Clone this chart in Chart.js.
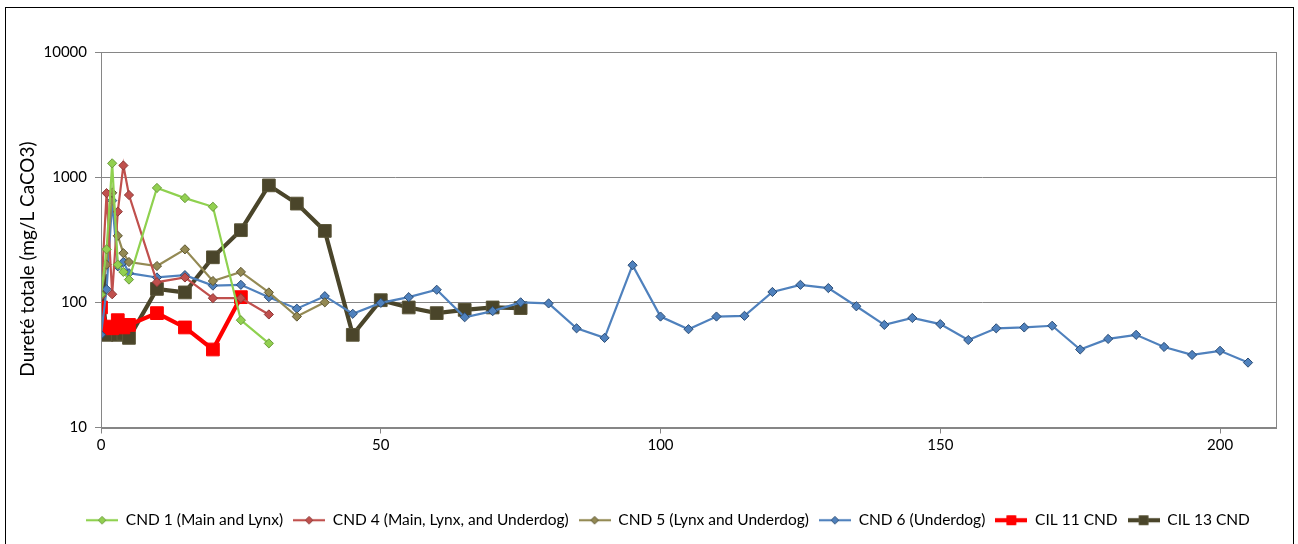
<!DOCTYPE html>
<html>
<head>
<meta charset="utf-8">
<script src="https://cdn.jsdelivr.net/npm/chart.js@4/dist/chart.umd.min.js"></script>
<style>
  html, body { margin: 0; padding: 0; background: #fff; }
  #wrap { position: relative; width: 1298px; height: 544px; }
  #frame { position: absolute; left: 5px; top: 7px; width: 1289px; height: 545px; border: 1px solid #000; box-sizing: border-box; pointer-events: none; }
</style>
</head>
<body>
<div id="wrap">
  <canvas id="chart" width="1298" height="544"></canvas>
  <div id="frame"></div>
</div>
<script>
// series data (x = time, y = hardness mg/L CaCO3)
const cnd1X = [0, 1, 2, 3, 4, 5, 10, 15, 20, 25, 30];
const cnd1Y = [115, 265, 1290, 200, 175, 152, 820, 680, 580, 72, 47];

const cnd4X = [0, 1, 2, 3, 4, 5, 10, 15, 20, 25, 30];
const cnd4Y = [112, 745, 116, 530, 1240, 720, 145, 158, 108, 108, 80];

const cnd5X = [0, 1, 2, 3, 4, 5, 10, 15, 20, 25, 30, 35, 40];
const cnd5Y = [118, 200, 750, 340, 247, 210, 195, 265, 148, 175, 120, 77, 100];

const cnd6X = [0, 1, 2, 3, 4, 5, 10, 15, 20, 25, 30, 35, 40, 45, 50, 55, 60, 65, 70, 75, 80,
  85, 90, 95, 100, 105, 110, 115, 120, 125, 130, 135, 140, 145, 150, 155, 160, 165, 170,
  175, 180, 185, 190, 195, 200, 205];
const cnd6Y = [55, 127, 650, 194, 210, 171, 158, 165, 136, 138, 110, 89, 112, 81, 99, 110, 126, 76, 85, 100, 98,
  62, 52, 198, 77, 61, 77, 78, 121, 138, 130, 93, 66, 75, 67, 50, 62, 63, 65,
  42, 51, 55, 44, 38, 41, 33];

const cil11X = [0, 1, 2, 3, 4, 5, 10, 15, 20, 25];
const cil11Y = [91, 64, 62, 72, 63, 66, 82, 63, 42, 110];

const cil13X = [0, 1, 2, 3, 4, 5, 10, 15, 20, 25, 30, 35, 40, 45, 50, 55, 60, 65, 70, 75];
const cil13Y = [148, 55, 62, 55, 56, 52, 128, 120, 229, 377, 860, 615, 372, 55, 104, 91, 82, 87, 91, 90];

const seriesNames = ["CND 1 (Main and Lynx)", "CND 4 (Main, Lynx, and Underdog)", "CND 5 (Lynx and Underdog)",
  "CND 6 (Underdog)", "CIL 11 CND", "CIL 13 CND"];
const yTitle = "Dureté totale (mg/L CaCO3)";
const yTicks = [10, 100, 1000, 10000];
const xTicks = [0, 50, 100, 150, 200];

const pts = (xs, ys) => xs.map((x, i) => ({ x: x, y: ys[i] }));

function sample(line, fill, border, style, r, lw) {
  const c = document.createElement("canvas");
  c.width = 32; c.height = 20;
  const g = c.getContext("2d");
  g.strokeStyle = line; g.lineWidth = lw;
  g.beginPath(); g.moveTo(0, 10); g.lineTo(32, 10); g.stroke();
  g.fillStyle = fill; g.strokeStyle = border; g.lineWidth = 1;
  g.beginPath();
  if (style === "rectRot") {
    g.moveTo(16, 10 - r); g.lineTo(16 + r, 10); g.lineTo(16, 10 + r); g.lineTo(16 - r, 10); g.closePath();
  } else {
    g.rect(16 - r, 10 - r, 2 * r, 2 * r);
  }
  g.fill(); if (border) g.stroke();
  return c;
}

function cnd(label, xs, ys, line, fill, border) {
  return {
    label: label, data: pts(xs, ys),
    borderColor: line, borderWidth: 2.2,
    pointStyle: "rectRot", pointRadius: 4.6, pointBackgroundColor: fill, pointBorderColor: border, pointBorderWidth: 1,
    legendImg: sample(line, fill, border, "rectRot", 3.8, 2.2)
  };
}
function cil(label, xs, ys, color, border) {
  return {
    label: label, data: pts(xs, ys),
    borderColor: color, borderWidth: 4.2,
    pointStyle: "rect", pointRadius: 9, pointBackgroundColor: color, pointBorderColor: border, pointBorderWidth: 1,
    legendImg: sample(color, color, border, "rect", 4.5, 4.2)
  };
}

const datasets = [
  cnd(seriesNames[0], cnd1X, cnd1Y, "#8fd14f", "#92d050", "#6a9a3a"),
  cnd(seriesNames[1], cnd4X, cnd4Y, "#c0504d", "#c0504d", "#8c3836"),
  cnd(seriesNames[2], cnd5X, cnd5Y, "#948a54", "#938953", "#5e5632"),
  cnd(seriesNames[3], cnd6X, cnd6Y, "#4f81bd", "#4f81bd", "#2c4d75"),
  cil(seriesNames[4], cil11X, cil11Y, "#ff0000", "#ff0000"),
  cil(seriesNames[5], cil13X, cil13Y, "#4a452a", "#5a5538")
];

const font = "Lato, 'Open Sans', sans-serif";

// plot frame + y title (placed like the original, a bit below the axis centre)
const plotBox = {
  id: "plotBox",
  afterLayout(chart) {
    // legend in the original is centred on the whole frame, not the plot
    chart.legend.left = 60;
  },
  afterDraw(chart) {
    const a = chart.chartArea, ctx = chart.ctx;
    ctx.save();
    ctx.strokeStyle = "#868686"; ctx.lineWidth = 1;
    ctx.strokeRect(Math.round(a.left) + 0.5, Math.round(a.top) + 0.5, Math.round(a.right - a.left), Math.round(a.bottom - a.top));
    ctx.translate(28, 259);
    ctx.rotate(-Math.PI / 2);
    ctx.fillStyle = "#000";
    ctx.font = "19px " + font;
    ctx.textAlign = "center";
    ctx.textBaseline = "middle";
    ctx.fillText(yTitle, 0, 0);
    ctx.restore();
  }
};

new Chart(document.getElementById("chart"), {
  type: "line",
  data: { datasets: datasets },
  plugins: [plotBox],
  options: {
    responsive: false,
    animation: false,
    events: [],
    layout: { padding: { left: 0, right: 22, top: 52, bottom: 6 } },
    plugins: {
      tooltip: { enabled: false },
      legend: {
        position: "bottom",
        labels: {
          color: "#000",
          font: { family: font, size: 15.5 },
          usePointStyle: true,
          pointStyleWidth: 32,
          boxHeight: 14,
          padding: 10,
          generateLabels(chart) {
            return chart.data.datasets.map((d, i) => ({
              text: d.label, pointStyle: d.legendImg, fillStyle: d.borderColor,
              strokeStyle: d.borderColor, lineWidth: 0, datasetIndex: i, fontColor: "#000"
            }));
          }
        }
      }
    },
    scales: {
      x: {
        type: "linear", min: 0, max: 210,
        afterBuildTicks(axis) { axis.ticks = xTicks.map(v => ({ value: v })); },
        afterFit(axis) { axis.height = 75; },
        grid: { drawOnChartArea: false, drawTicks: true, tickLength: 6, color: "#868686" },
        border: { color: "#868686" },
        ticks: { color: "#000", font: { family: font, size: 15 }, padding: 3, maxRotation: 0 }
      },
      y: {
        type: "logarithmic", min: 10, max: 10000,
        afterBuildTicks(axis) { axis.ticks = yTicks.map(v => ({ value: v })); },
        afterFit(axis) { axis.width = 101; },
        grid: { color: "#868686", tickLength: 6, drawTicks: true },
        border: { color: "#868686" },
        ticks: { color: "#000", font: { family: font, size: 15 }, padding: 8,
          callback: v => String(v) }
      }
    }
  }
});
</script>
</body>
</html>
